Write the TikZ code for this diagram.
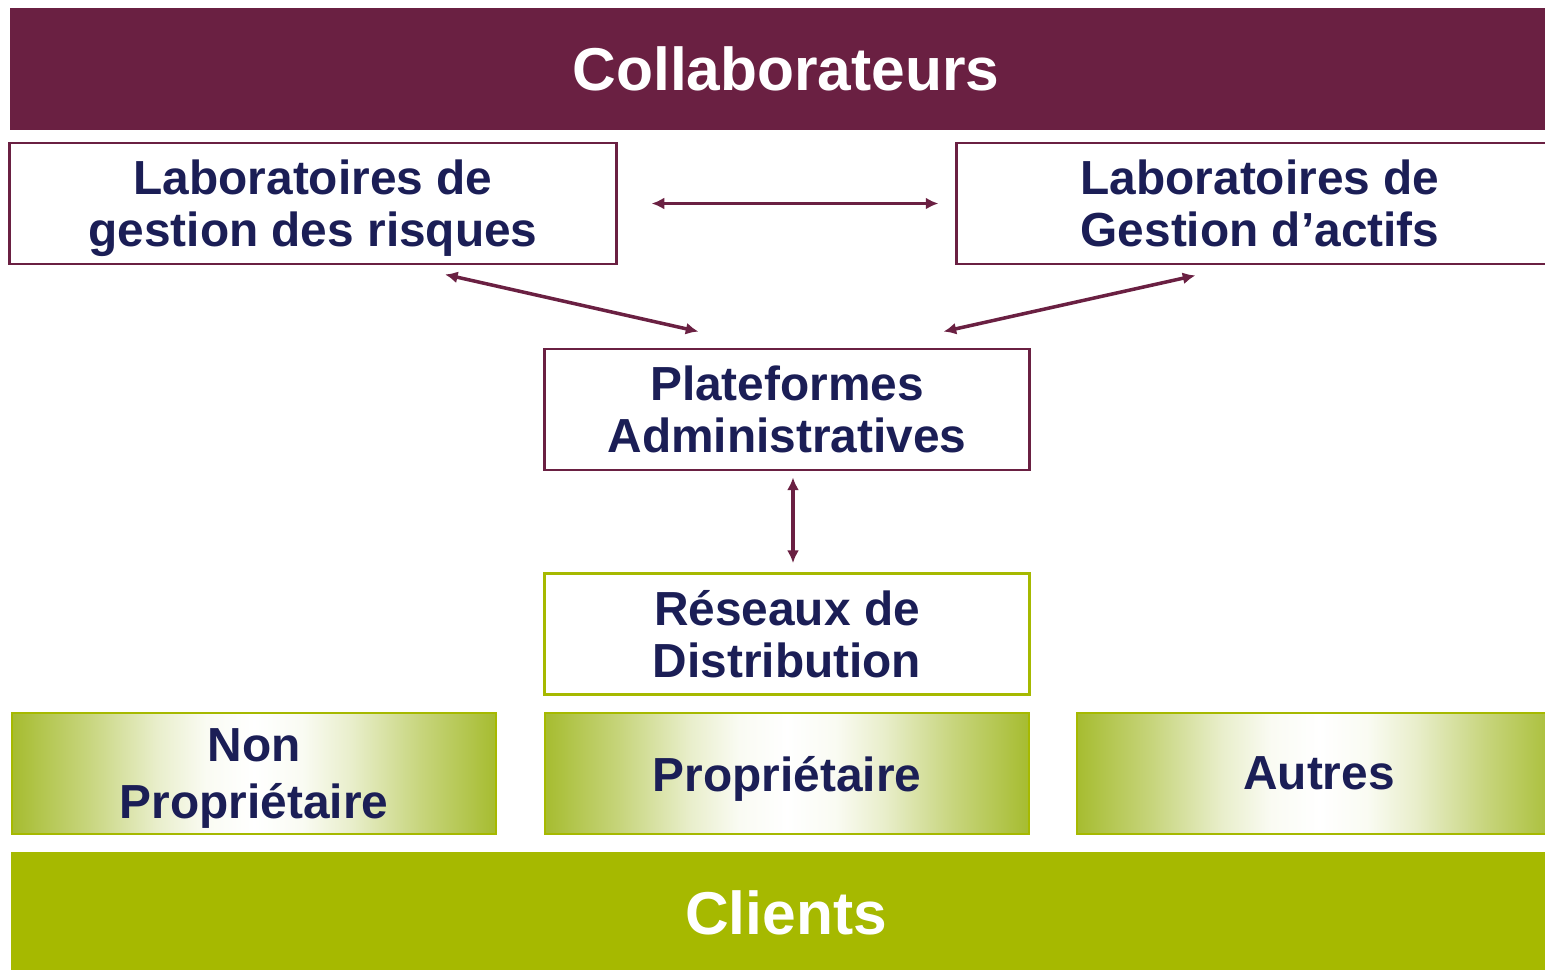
\documentclass[tikz,border=0pt]{standalone}
\usepackage{fontspec}
\setmainfont{Liberation Sans}
\usetikzlibrary{arrows.meta,positioning}

\definecolor{wine}{HTML}{6A2042}
\definecolor{navytext}{HTML}{1B1E56}
\definecolor{clientgreen}{HTML}{A6B900}
\definecolor{fadeedge}{HTML}{A6BC30}
% visible part of a TikZ shading runs from 25bp to 75bp
\pgfdeclarehorizontalshading{greenfade}{100bp}{color(0bp)=(fadeedge); color(25bp)=(fadeedge); color(33bp)=(fadeedge!62!white); color(40bp)=(fadeedge!25!white); color(45bp)=(fadeedge!6!white); color(50bp)=(white); color(55bp)=(fadeedge!6!white); color(60bp)=(fadeedge!25!white); color(67bp)=(fadeedge!62!white); color(75bp)=(fadeedge); color(100bp)=(fadeedge)}

\begin{document}
\begin{tikzpicture}[x=0.01cm, y=-0.01cm,
  bar/.style={rectangle, inner sep=0pt, minimum height=1.22cm, text=white, font=\fontsize{17.2}{19}\selectfont\bfseries},
  box/.style={rectangle, draw=wine, line width=0.8pt, fill=white, inner sep=0pt, minimum height=1.21cm, text=navytext, align=center, text depth=0pt, font=\fontsize{13.6}{14.8}\selectfont\bfseries},
  fadebox/.style={box, draw=clientgreen, line width=0.5pt, shade, shading=greenfade, minimum width=4.84cm},
  link/.style={{Latex[length=3.6pt,width=3.4pt]}-{Latex[length=3.6pt,width=3.4pt]}, draw=wine, line width=1pt}]
\useasboundingbox (0,0) rectangle (1545,969);

% Top and bottom bars
\node[bar, fill=wine, minimum width=15.52cm] (collab) at (786,69) {Collaborateurs};
\node[bar, fill=clientgreen, minimum width=15.5cm] (clients) at (786,913) {Clients};

% Laboratories
\node[box, minimum width=6.06cm] (labrisk) at (313,203.5) {Laboratoires de\\gestion des risques};
\node[box, minimum width=6.06cm] (labasset) at (1260,203.5) {Laboratoires de\\Gestion d’actifs};

% Middle column
\node[box, minimum width=4.84cm] (plat) at (787,409.5) {Plateformes\\Administratives};
\node[box, draw=clientgreen, minimum width=4.84cm] (net) at (787,634) {Réseaux de\\Distribution};

% Distribution channels
\node[fadebox] (nonprop) at (254,773.5) {Non\\[1.5pt]Propriétaire};
\node[fadebox] (prop) at (787,773.5) {Propriétaire};
\node[fadebox] (other) at (1319,773.5) {Autres};

% Links
\draw[link, shorten <=0.34cm, shorten >=0.17cm] (labrisk) -- (labasset);
\draw[link] ([shift={(132,9)}]labrisk.south) -- ([shift={(155,-16)}]plat.north west);
\draw[link] ([shift={(240,10)}]labasset.south west) -- ([shift={(-87,-16)}]plat.north east);
\draw[link] ([shift={(6,6)}]plat.south) -- ([shift={(6,-9)}]net.north);

\end{tikzpicture}
\end{document}
